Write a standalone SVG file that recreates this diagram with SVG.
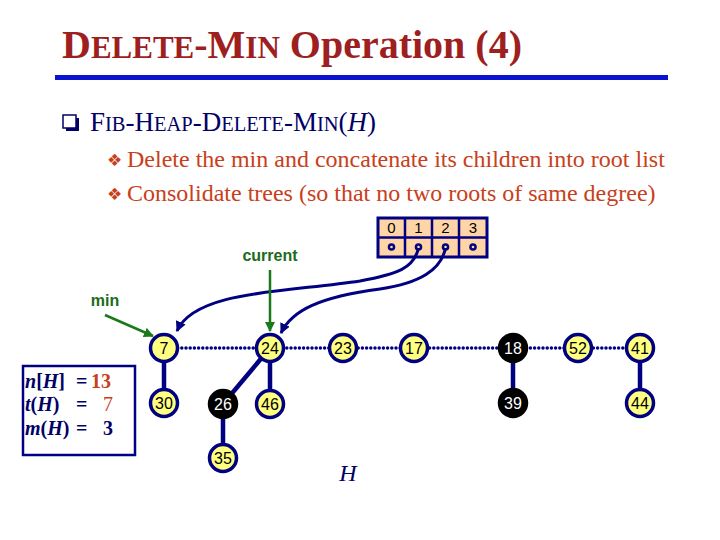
<svg xmlns="http://www.w3.org/2000/svg" width="720" height="540" viewBox="0 0 720 540">
<style>
.serif{font-family:"Liberation Serif","Times New Roman",serif}
.sans{font-family:"Liberation Sans",Arial,sans-serif}
.nd circle{fill:#FFFF80;stroke:#000080;stroke-width:3.5}
.nd text{font-family:"Liberation Sans",Arial,sans-serif;font-size:16px;text-anchor:middle;fill:#000}
.bk circle{fill:#000;stroke:#000;stroke-width:3.5}
.bk text{font-family:"Liberation Sans",Arial,sans-serif;font-size:16px;text-anchor:middle;fill:#fff}
.edge{stroke:#000080;stroke-width:4.5;fill:none}
.ptr{stroke:#000080;stroke-width:3;fill:none;marker-end:url(#ah)}
.gp{stroke:#1A7A1A;stroke-width:2.5;fill:none;marker-end:url(#gh)}
.lbl{font-family:"Liberation Sans",Arial,sans-serif;font-weight:bold;font-size:16px;fill:#1A6B1A;text-anchor:middle}
</style>
<defs>
<marker id="ah" viewBox="0 0 10 10" refX="9" refY="5" markerWidth="3.5" markerHeight="3.5" orient="auto"><path d="M0,0 L10,5 L0,10 z" fill="#000080"/></marker>
<marker id="gh" viewBox="0 0 10 10" refX="9" refY="5" markerWidth="4" markerHeight="4" orient="auto"><path d="M0,0 L10,5 L0,10 z" fill="#1A7A1A"/></marker>
</defs>
<rect width="720" height="540" fill="#fff"/>

<g id="title">
<text class="serif" x="62" y="58" font-weight="bold" font-size="40" fill="#9E1F1F">D<tspan font-size="31">ELETE</tspan>-M<tspan font-size="31">IN</tspan> Operation (4)</text>
<rect x="55" y="75" width="613" height="5" fill="#0A14D0"/>
</g>

<g id="heading">
<rect x="66" y="118" width="13" height="13" fill="#000066"/>
<rect x="63" y="115" width="13" height="13" fill="#fff" stroke="#000066" stroke-width="1.5"/>
<text class="serif" x="90" y="131" font-size="27" fill="#000066">F<tspan font-size="20.5">IB</tspan>-H<tspan font-size="20.5">EAP</tspan>-D<tspan font-size="20.5">ELETE</tspan>-M<tspan font-size="20.5">IN</tspan>(<tspan font-style="italic">H</tspan>)</text>
</g>

<g id="bullets">
<text x="107" y="166" font-family="DejaVu Sans,sans-serif" font-size="17" fill="#C8401A">❖</text>
<text class="serif" x="127" y="167" font-size="24" fill="#C8401A">Delete the min and concatenate its children into root list</text>
<text x="107" y="200" font-family="DejaVu Sans,sans-serif" font-size="17" fill="#C8401A">❖</text>
<text class="serif" x="127" y="201" font-size="24" fill="#C8401A">Consolidate trees (so that no two roots of same degree)</text>
</g>

<g id="array">
<rect x="378" y="218" width="109" height="39" fill="#FFD5A8" stroke="#000080" stroke-width="3"/>
<path d="M405,218 V257 M432,218 V257 M459,218 V257 M378,237.5 H487" stroke="#000080" stroke-width="2.5"/>
<g class="sans" font-size="15" text-anchor="middle" fill="#000">
<text x="391.5" y="233">0</text><text x="418.5" y="233">1</text><text x="445.5" y="233">2</text><text x="473" y="233">3</text>
</g>
<g fill="#000080">
<circle cx="391.5" cy="247" r="3.8"/><circle cx="418.5" cy="247" r="3.8"/><circle cx="445.5" cy="247" r="3.8"/><circle cx="473" cy="247" r="3.8"/>
</g>
<g fill="#FFD5A8">
<circle cx="391.5" cy="247" r="1.3"/><circle cx="418.5" cy="247" r="1.3"/><circle cx="445.5" cy="247" r="1.3"/><circle cx="473" cy="247" r="1.3"/>
</g>
</g>

<g id="labels">
<text class="lbl" x="270" y="261">current</text>
<text class="lbl" x="105" y="306">min</text>
<text x="348" y="481" class="serif" font-style="italic" font-size="24" fill="#000066" text-anchor="middle">H</text>
</g>

<g id="info">
<rect x="23" y="366" width="112" height="89" fill="#fff" stroke="#000080" stroke-width="2.5"/>
<g class="serif" font-weight="bold" font-size="20" fill="#000066">
<text x="25" y="388"><tspan font-style="italic">n</tspan>[<tspan font-style="italic">H</tspan>]</text>
<text x="76" y="388">=</text><text x="91" y="388" fill="#C8401A">13</text>
<text x="25" y="411"><tspan font-style="italic">t</tspan>(<tspan font-style="italic">H</tspan>)</text>
<text x="76" y="411">=</text><text x="103" y="411" fill="#C8401A" font-weight="normal">7</text>
<text x="25" y="435"><tspan font-style="italic">m</tspan>(<tspan font-style="italic">H</tspan>)</text>
<text x="76" y="435">=</text><text x="103" y="435">3</text>
</g>
</g>

<g id="connectors">
<line x1="165" y1="348" x2="640" y2="348" stroke="#000080" stroke-width="3.5" stroke-linecap="round" stroke-dasharray="0 4.2"/>
<path class="edge" d="M164,348 V403 M270,348 L223,404 M270,348 V404 M223,404 V458 M513,348 V403 M640,348 V403"/>
<path class="ptr" d="M418.5,248 C414,268 398,274 360,281 C290,292 195,290 177,331"/>
<path class="ptr" d="M445.5,248 C441,270 420,283 380,289 C320,297 292,310 281,333"/>
<line class="gp" x1="270" y1="270" x2="270" y2="331"/>
<line class="gp" x1="105" y1="315" x2="153" y2="336"/>
</g>

<g id="n7" class="nd"><circle cx="164" cy="348" r="13.5"/><text x="164" y="354">7</text></g>
<g id="n24" class="nd"><circle cx="270" cy="348" r="13.5"/><text x="270" y="354">24</text></g>
<g id="n23" class="nd"><circle cx="343" cy="348" r="13.5"/><text x="343" y="354">23</text></g>
<g id="n17" class="nd"><circle cx="414" cy="348" r="13.5"/><text x="414" y="354">17</text></g>
<g id="n18" class="bk"><circle cx="513" cy="348" r="13.5"/><text x="513" y="354">18</text></g>
<g id="n52" class="nd"><circle cx="578" cy="348" r="13.5"/><text x="578" y="354">52</text></g>
<g id="n41" class="nd"><circle cx="640" cy="348" r="13.5"/><text x="640" y="354">41</text></g>
<g id="n30" class="nd"><circle cx="164" cy="403" r="13.5"/><text x="164" y="409">30</text></g>
<g id="n26" class="bk"><circle cx="223" cy="404" r="13.5"/><text x="223" y="410">26</text></g>
<g id="n46" class="nd"><circle cx="270" cy="404" r="13.5"/><text x="270" y="410">46</text></g>
<g id="n35" class="nd"><circle cx="223" cy="458" r="13.5"/><text x="223" y="464">35</text></g>
<g id="n39" class="bk"><circle cx="513" cy="403" r="13.5"/><text x="513" y="409">39</text></g>
<g id="n44" class="nd"><circle cx="640" cy="403" r="13.5"/><text x="640" y="409">44</text></g>
</svg>
